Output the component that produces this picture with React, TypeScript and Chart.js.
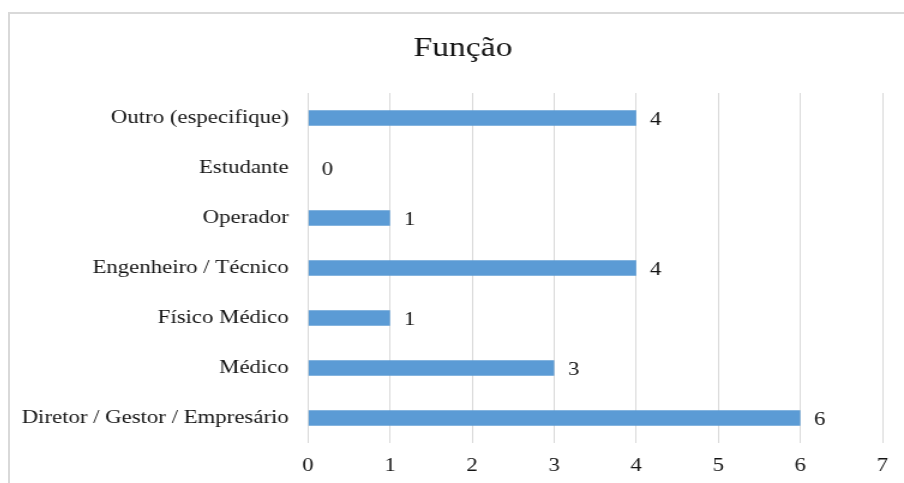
import React, { useEffect, useRef } from "react";
import { Chart, registerables } from "chart.js";

Chart.register(...registerables);

const categories = [
  "Outro (especifique)",
  "Estudante",
  "Operador",
  "Engenheiro / Técnico",
  "Físico Médico",
  "Médico",
  "Diretor / Gestor / Empresário",
];
const values = [4, 0, 1, 4, 1, 3, 6];
const titleText = "Função";
const xMin = 0;
const xMax = 7;

const FONT = "'Liberation Serif', 'Times New Roman', serif";
const TEXT = "#141414";

const valueLabels = {
  id: "valueLabels",
  afterDatasetsDraw(chart: any) {
    const ctx = chart.ctx;
    const meta = chart.getDatasetMeta(0);
    const data = chart.data.datasets[0].data as number[];
    ctx.save();
    ctx.font = `19px ${FONT}`;
    ctx.fillStyle = TEXT;
    ctx.textAlign = "left";
    ctx.textBaseline = "middle";
    meta.data.forEach((el: any, i: number) => {
      ctx.fillText(String(data[i]), el.x + 11.5, el.y + 2);
    });
    ctx.restore();
  },
};

const centeredTitle = {
  id: "centeredTitle",
  afterDraw(chart: any) {
    const ctx = chart.ctx;
    ctx.save();
    ctx.font = `28px ${FONT}`;
    ctx.fillStyle = TEXT;
    ctx.textAlign = "center";
    ctx.textBaseline = "alphabetic";
    ctx.fillText(titleText, chart.width / 2, 42);
    ctx.restore();
  },
};

export default function App() {
  const ref = useRef<HTMLCanvasElement | null>(null);

  useEffect(() => {
    if (!ref.current) return;
    const chart = new Chart(ref.current, {
      type: "bar",
      data: {
        labels: categories,
        datasets: [
          {
            data: values,
            backgroundColor: "#5b9bd5",
            borderWidth: 0,
            barPercentage: 0.31,
            categoryPercentage: 1,
          },
        ],
      },
      options: {
        indexAxis: "y",
        responsive: false,
        devicePixelRatio: 1,
        animation: false,
        events: [],
        layout: { padding: { left: 0, right: 28, top: 79, bottom: 0 } },
        plugins: {
          legend: { display: false },
          tooltip: { enabled: false },
          title: { display: false },
        },
        scales: {
          x: {
            min: xMin,
            max: xMax,
            ticks: {
              stepSize: 1,
              color: TEXT,
              font: { family: FONT, size: 19 },
              padding: 12,
            },
            grid: { color: "#d9d9d9", lineWidth: 1, drawTicks: false },
            border: { display: false },
            afterFit(scale: any) {
              scale.height = 40;
            },
          },
          y: {
            ticks: {
              color: TEXT,
              font: { family: FONT, size: 19 },
              padding: 16,
            },
            grid: { display: false, drawTicks: false },
            border: { display: false },
            afterFit(scale: any) {
              scale.width = 248.3;
            },
          },
        },
      },
      plugins: [valueLabels, centeredTitle],
    } as any);
    return () => chart.destroy();
  }, []);

  return (
    <div
      style={{
        position: "fixed",
        left: 8,
        top: 12,
        width: 906,
        height: 480,
        borderLeft: "2px solid #d9d9d9",
        borderTop: "2px solid #d9d9d9",
        background: "#fff",
        overflow: "hidden",
      }}
    >
      <canvas
        ref={ref}
        width={755}
        height={469}
        style={{ width: "906px", height: "469px", display: "block" }}
      />
    </div>
  );
}
